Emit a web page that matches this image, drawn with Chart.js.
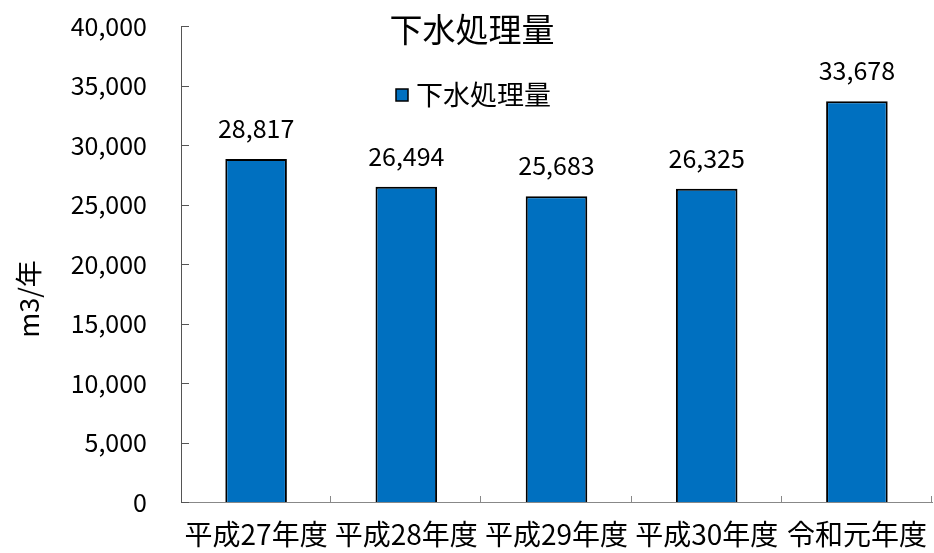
<!DOCTYPE html>
<html>
<head>
<meta charset="utf-8">
<script src="https://cdn.jsdelivr.net/npm/chart.js@4/dist/chart.umd.min.js"></script>
<style>
  html, body { margin: 0; padding: 0; background: #fff; }
  #wrap { width: 934px; height: 553px; }
</style>
</head>
<body>
<div id="wrap"><canvas id="chart" width="934" height="553"></canvas></div>
<script>
// Data
const categories = ['平成27年度', '平成28年度', '平成29年度', '平成30年度', '令和元年度'];
const volumes = [28817, 26494, 25683, 26325, 33678];
const seriesName = '下水処理量';
const chartTitle = '下水処理量';
const yAxisTitle = 'm3/年';
const yMin = 0;
const yMax = 40000;
const yStep = 5000;

const FONT = '"Noto Sans CJK JP", "Noto Sans", sans-serif';
const BAR_COLOR = '#0070C0';

/**
 * Inward tick marks, value labels, title, legend and axis title
 */
const decorations = {
    id: 'decorations',
    afterDatasetsDraw(chart) {
        const ctx = chart.ctx;
        const x = chart.scales.x;
        const y = chart.scales.y;
        const area = chart.chartArea;

        ctx.save();
        // y ticks pointing into the plot
        ctx.strokeStyle = '#555';
        ctx.lineWidth = 1;
        y.ticks.forEach(t => {
            const py = Math.round(y.getPixelForValue(t.value)) + 0.5;
            ctx.beginPath();
            ctx.moveTo(area.left, py);
            ctx.lineTo(area.left + 8, py);
            ctx.stroke();
        });
        // category boundary ticks, pointing up
        ctx.strokeStyle = '#888';
        for (let i = 1; i <= categories.length; i++) {
            const px = Math.round(x.getPixelForValue(i - 0.5)) - 0.5;
            ctx.beginPath();
            ctx.moveTo(px, area.bottom);
            ctx.lineTo(px, area.bottom - 6);
            ctx.stroke();
        }

        // value labels above each bar
        ctx.fillStyle = '#000';
        ctx.font = '25px ' + FONT;
        ctx.textAlign = 'center';
        ctx.textBaseline = 'alphabetic';
        chart.getDatasetMeta(0).data.forEach((bar, i) => {
            ctx.fillText(volumes[i].toLocaleString('en-US'), bar.x, bar.y - 21);
        });

        // title
        ctx.font = '33px ' + FONT;
        ctx.textBaseline = 'middle';
        ctx.fillText(chartTitle, 472, 29);

        // legend
        ctx.fillStyle = BAR_COLOR;
        ctx.fillRect(396, 89, 12, 12);
        ctx.strokeStyle = '#000';
        ctx.lineWidth = 1.5;
        ctx.strokeRect(396, 89, 12, 12);
        ctx.fillStyle = '#000';
        ctx.font = '27px ' + FONT;
        ctx.textAlign = 'left';
        ctx.fillText(seriesName, 416, 95);

        // y axis title
        ctx.translate(29, 299);
        ctx.rotate(-Math.PI / 2);
        ctx.textAlign = 'center';
        ctx.font = '27px ' + FONT;
        ctx.fillText(yAxisTitle, 0, 0);
        ctx.restore();
    }
};

new Chart(document.getElementById('chart'), {
    type: 'bar',
    data: {
        labels: categories,
        datasets: [{
            label: seriesName,
            data: volumes,
            backgroundColor: BAR_COLOR,
            borderColor: '#000',
            borderWidth: 2,
            barPercentage: 0.41,
            categoryPercentage: 1
        }]
    },
    options: {
        responsive: false,
        animation: false,
        layout: { padding: { top: 26, right: 2, left: 0, bottom: 0 } },
        plugins: {
            legend: { display: false },
            title: { display: false },
            tooltip: { enabled: false }
        },
        scales: {
            x: {
                grid: { display: false, drawTicks: false },
                border: { display: true, color: '#888', width: 1 },
                ticks: {
                    color: '#000',
                    font: { family: FONT, size: 28 },
                    padding: 16,
                    maxRotation: 0,
                    autoSkip: false
                },
                afterFit(scale) {
                    scale.height = 51;
                    scale.paddingLeft = 0;
                    scale.paddingRight = 0;
                }
            },
            y: {
                min: yMin,
                max: yMax,
                grid: { display: false, drawTicks: false },
                border: { display: true, color: '#555', width: 1 },
                ticks: {
                    stepSize: yStep,
                    color: '#000',
                    font: { family: FONT, size: 25 },
                    padding: 34,
                    callback: v => v.toLocaleString('en-US')
                },
                afterFit(scale) {
                    scale.width = 181;
                    scale.paddingTop = 0;
                    scale.paddingBottom = 0;
                }
            }
        }
    },
    plugins: [decorations]
});
</script>
</body>
</html>
